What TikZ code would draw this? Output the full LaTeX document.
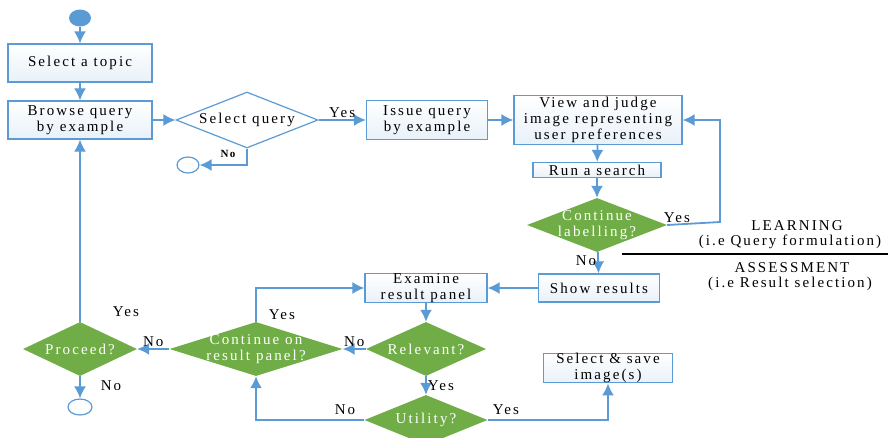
\documentclass[tikz,border=0pt]{standalone}
\usepackage{fontspec}
\setmainfont{Liberation Serif}[LetterSpace=14]
\usetikzlibrary{shapes.geometric,arrows.meta}
\definecolor{flowblue}{HTML}{5B9BD5}
\definecolor{flowgreen}{HTML}{70AD47}

\begin{document}
\begin{tikzpicture}[x=1pt,y=-1pt]
\tikzset{ >={Latex[length=12pt,width=12pt]}, font=\fontsize{15}{16}\selectfont,
  box/.style={draw=flowblue, line width=1.2pt, top color=white, bottom color=flowblue!14, align=center, inner sep=0pt},
  ask/.style={diamond, draw=flowblue, line width=1.2pt, fill=white, inner sep=0pt},
  choice/.style={diamond, fill=flowgreen, inner sep=0pt},
  inside/.style={text=white, align=center},
  flow/.style={draw=flowblue, line width=1.8pt, ->},
  tag/.style={inner sep=1pt},
}
\useasboundingbox (0,0) rectangle (890,437);

%\draw [lightgray, dashed](0,0) grid[step=50] (890,437);

% learning part
\node [ellipse, fill=flowblue, minimum width=22pt, minimum height=17pt] (start) at (80,18) {};
\node [box, minimum width=144pt, minimum height=38pt] (topic) at (80,63) {Select a topic};
\node [box, minimum width=144pt, minimum height=38pt] (browse) at (80,120) {Browse query\\by example};
\node [ask, minimum width=142pt, minimum height=56pt] (selq) at (247,120) {};
\node at (selq.center) {Select query};
\node [ellipse, draw=flowblue, line width=1.2pt, fill=white, minimum width=22pt, minimum height=16pt] (endA) at (188,165) {};
\node [box, minimum width=121pt, minimum height=39pt] (issue) at (427,120) {Issue query\\by example};
\node [box, minimum width=168pt, minimum height=49pt] (view) at (598,120) {View and judge\\image representing\\user preferences};
\node [box, minimum width=128pt, minimum height=15pt] (run) at (597,170) {Run a search};
\node [choice, minimum width=140pt, minimum height=54pt] (more) at (597,225) {};
\node [inside] at (more.center) {Continue\\labelling?};
\coordinate (loopA) at (720,222);

% assessment part
\node [box, minimum width=121pt, minimum height=28pt] (show) at (599,288) {Show results};
\node [box, minimum width=122pt, minimum height=28pt] (exam) at (426,288) {Examine\\result panel};
\node [choice, minimum width=120pt, minimum height=54pt] (rel) at (426,349) {};
\node [inside] at (rel.center) {Relevant?};
\node [choice, minimum width=173pt, minimum height=54pt] (onpanel) at (256,349) {};
\node [inside] at (onpanel.center) {Continue on\\result panel?};
\node [choice, minimum width=114pt, minimum height=54pt] (proc) at (80,349) {};
\node [inside] at (proc.center) {Proceed?};
\node [ellipse, draw=flowblue, line width=1.2pt, fill=white, minimum width=24pt, minimum height=16pt] (endB) at (80,407) {};
\node [choice, minimum width=123pt, minimum height=50pt] (util) at (426,420) {};
\node [inside] at (util.center) {Utility?};
\node [box, minimum width=129pt, minimum height=29pt] (save) at (608,368) {Select \& save\\image(s)};

\draw [flow] (start) -- (topic);
\draw [flow] (topic) -- (browse);
\draw [flow] (browse) -- (selq);
\draw [flow] (selq) -- node [tag, above] {Yes} (issue);
\draw [flow] (selq.south) |- (endA);
\node [font=\fontsize{11}{12}\bfseries] at (228,154) {No};
\draw [flow] (issue) -- (view);
\draw [flow] (view) -- (run);
\draw [flow] (run) -- (more);
\draw [flow] (more.east) -- (loopA) |- (view.east);
\node at (677,218) {Yes};
\draw [flow] (more) -- node [tag, left, pos=0.4] {No} (show);

\draw [line width=1.8pt] (622,254) -- (888,254);
\node at (797,226) {LEARNING};
\node at (790,242) {(i.e Query formulation)};
\node at (792,268) {ASSESSMENT};
\node at (790,284) {(i.e Result selection)};

\draw [flow] (show) -- (exam);
\draw [flow] (exam) -- (rel);
\draw [flow] (rel) -- node [tag, above] {No} (onpanel);
\draw [flow] (onpanel.north) |- (exam.west);
\node at (282,315) {Yes};
\draw [flow] (onpanel) -- node [tag, above] {No} (proc);
\draw [flow] (proc) -- (browse);
\node at (126,312) {Yes};
\draw [flow] (proc) -- (endB);
\node at (111,386) {No};
\draw [flow] (rel) -- node [tag, right] {Yes} (util);
\draw [flow] (util.west) -| (onpanel.south);
\node at (345,410) {No};
\draw [flow] (util.east) -| (save.south);
\node at (506,410) {Yes};

\end{tikzpicture}
\end{document}
